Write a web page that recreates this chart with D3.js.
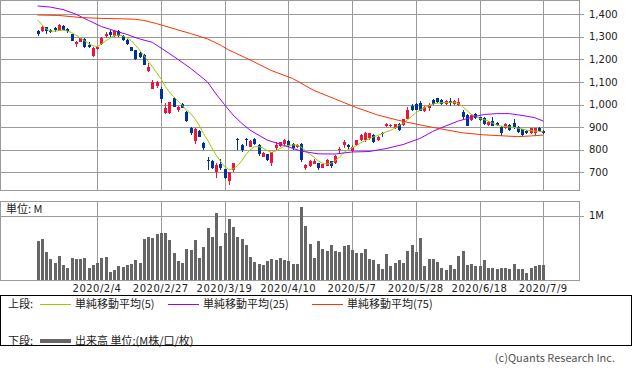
<!DOCTYPE html>
<html>
<head>
<meta charset="utf-8">
<script src="https://cdn.jsdelivr.net/npm/d3@7"></script>
<style>
  body { margin: 0; background: #fff; }
  svg { display: block; }
</style>
</head>
<body>
<div id="chart"></div>
<script>
// trading days shown (2020/1/15 - 2020/7/9)
const dates = [
  "2020/1/15","2020/1/16","2020/1/17","2020/1/20","2020/1/21","2020/1/22","2020/1/23","2020/1/24","2020/1/27","2020/1/28",
  "2020/1/29","2020/1/30","2020/1/31","2020/2/3","2020/2/4","2020/2/5","2020/2/6","2020/2/7","2020/2/10","2020/2/12",
  "2020/2/13","2020/2/14","2020/2/17","2020/2/18","2020/2/19","2020/2/20","2020/2/21","2020/2/25","2020/2/26","2020/2/27",
  "2020/2/28","2020/3/2","2020/3/3","2020/3/4","2020/3/5","2020/3/6","2020/3/9","2020/3/10","2020/3/11","2020/3/12",
  "2020/3/13","2020/3/16","2020/3/17","2020/3/18","2020/3/19","2020/3/23","2020/3/24","2020/3/25","2020/3/26","2020/3/27",
  "2020/3/30","2020/3/31","2020/4/1","2020/4/2","2020/4/3","2020/4/6","2020/4/7","2020/4/8","2020/4/9","2020/4/10",
  "2020/4/13","2020/4/14","2020/4/15","2020/4/16","2020/4/17","2020/4/20","2020/4/21","2020/4/22","2020/4/23","2020/4/24",
  "2020/4/27","2020/4/28","2020/4/30","2020/5/1","2020/5/7","2020/5/8","2020/5/11","2020/5/12","2020/5/13","2020/5/14",
  "2020/5/15","2020/5/18","2020/5/19","2020/5/20","2020/5/21","2020/5/22","2020/5/25","2020/5/26","2020/5/27","2020/5/28",
  "2020/5/29","2020/6/1","2020/6/2","2020/6/3","2020/6/4","2020/6/5","2020/6/8","2020/6/9","2020/6/10","2020/6/11",
  "2020/6/12","2020/6/15","2020/6/16","2020/6/17","2020/6/18","2020/6/19","2020/6/22","2020/6/23","2020/6/24","2020/6/25",
  "2020/6/26","2020/6/29","2020/6/30","2020/7/1","2020/7/2","2020/7/3","2020/7/6","2020/7/7","2020/7/8","2020/7/9"
];

const opens = [
  1326,1326,1342,1332,1338,1326,1350,1335,1311,1268, 1279,1289,1264,1217,1245,1267,1305,1320,1303,1325,
  1304,1286,1253,1242,1230,1220,1150,1070,1082,1068, 964,961,1029,976,1001,968,895,840,884,831,
  756,751,700,735,713,661,710,848,821,846, 814,846,820,769,780,740,806,818,824,840,
  824,812,824,718,730,739,740,721,730,748, 740,797,819,823,794,821,843,841,850,865,
  843,872,905,904,895,914,910,936,994,1003, 1006,973,984,1019,1028,1020,1003,1017,1003,998,
  968,954,932,958,944,939,910,929,920,902, 895,910,920,902,891,883,873,875,895,883
];
const highs = [
  1332,1347,1344,1337,1344,1355,1353,1341,1313,1282, 1296,1294,1276,1257,1260,1300,1322,1329,1332,1330,
  1308,1291,1257,1244,1232,1224,1183,1109,1105,1077, 1006,1013,1032,995,1006,972,902,895,887,836,
  769,754,740,758,716,703,743,853,824,851, 841,850,824,790,783,792,834,836,846,843,
  828,825,828,737,754,759,743,739,759,752, 778,811,843,827,819,845,870,879,875,868,
  861,879,917,914,916,917,938,989,1003,1006, 1016,994,1007,1023,1031,1023,1020,1028,1020,1028,
  976,957,960,961,947,945,927,943,924,905, 920,913,936,905,893,887,898,898,902,887
];
const lows = [
  1305,1320,1311,1317,1320,1324,1329,1317,1282,1257, 1276,1251,1251,1210,1242,1264,1295,1301,1300,1300,
  1282,1266,1237,1197,1207,1175,1146,1068,1074,1008, 958,958,988,967,984,923,865,825,855,799,
  710,716,676,710,670,642,700,799,790,817, 812,821,774,766,750,730,799,814,821,812,
  801,808,746,712,723,735,710,717,726,721, 737,781,808,805,790,817,839,836,845,832,
  839,856,902,901,892,883,907,934,973,974, 972,967,972,1000,1009,998,998,994,998,994,
  932,903,927,936,927,910,905,903,905,861, 890,884,892,876,863,870,870,865,880,870
];
const closes = [
  1311,1344,1326,1323,1329,1353,1332,1326,1283,1279, 1294,1257,1255,1252,1257,1296,1314,1308,1326,1304,
  1286,1270,1239,1201,1210,1177,1168,1100,1100,1023, 984,1011,991,991,986,927,875,891,858,808,
  753,718,734,718,673,700,740,844,797,843, 837,824,780,785,754,789,821,833,843,817,
  806,821,754,732,748,752,719,735,754,726, 774,802,836,810,814,841,865,874,872,836,
  856,870,914,911,913,887,934,978,976,976, 973,991,1000,1004,1013,1003,1017,1006,1016,1013,
  947,905,956,939,932,914,924,905,910,875, 914,887,899,880,865,873,895,895,884,873
];

// volume, in millions
const volumes = [
  0.61,0.64,0.43,0.33,0.27,0.375,0.234,0.188,0.344,0.328, 0.328,0.344,0.188,0.234,0.266,0.349,0.359,0.125,0.156,0.219,
  0.203,0.234,0.25,0.313,0.266,0.64,0.672,0.656,0.719,0.734, 0.734,0.625,0.422,0.297,0.266,0.484,0.469,0.625,0.344,0.516,
  0.813,0.672,1.047,0.531,0.734,0.953,0.828,0.672,0.64,0.547, 0.359,0.281,0.25,0.234,0.297,0.328,0.313,0.344,0.313,0.297,
  0.25,0.25,1.14,0.844,0.563,0.344,0.609,0.484,0.453,0.547, 0.453,0.438,0.531,0.547,0.469,0.422,0.422,0.484,0.328,0.313,
  0.25,0.172,0.406,0.219,0.266,0.313,0.266,0.453,0.547,0.438, 0.656,0.219,0.328,0.328,0.281,0.188,0.156,0.234,0.172,0.375,
  0.453,0.234,0.25,0.219,0.219,0.313,0.188,0.188,0.172,0.188, 0.188,0.172,0.25,0.172,0.172,0.109,0.188,0.219,0.234,0.234
];

// 5 day moving average, one value per day
const ma5 = [
  1375,1355,1336,1326,1325,1328,1330,1326,1319,1308, 1296,1284,1271,1261,1257,1268,1282,1294,1305,1308,
  1305,1296,1284,1264,1242,1218,1193,1169,1142,1116, 1082,1057,1035,1017,998,976,961,938,910,873,
  843,809,777,750,725,713,715,728,750,777, 799,813,814,808,797,788,794,805,814,819,
  821,821,812,797,781,768,752,740,737,739, 752,766,787,799,808,817,830,839,848,856,
  863,870,879,885,895,907,916,932,947,963, 976,986,994,1002,1006,1008,1009,1010,1011,1005,
  992,974,958,947,939,934,927,918,910,905, 903,901,899,896,892,887,885,883,882,880
];

// 25 / 75 day moving averages, read at sample days
const ma25 = [
  ["2020/1/15",1437],["2020/1/20",1432],["2020/1/23",1421],["2020/1/28",1401],["2020/1/31",1373],
  ["2020/2/5",1346],["2020/2/10",1328],["2020/2/14",1311],["2020/2/19",1291],["2020/2/25",1276],
  ["2020/2/28",1239],["2020/3/4",1201],["2020/3/9",1161],["2020/3/12",1116],["2020/3/13",1100],
  ["2020/3/17",1047],["2020/3/19",1000],["2020/3/24",954],["2020/3/26",918],["2020/3/30",887],
  ["2020/4/3",843],["2020/4/9",819],["2020/4/15",794],["2020/4/21",782],["2020/4/27",781],
  ["2020/5/7",790],["2020/5/13",792],["2020/5/19",805],["2020/5/25",823],["2020/5/29",850],
  ["2020/6/3",881],["2020/6/8",905],["2020/6/11",927],["2020/6/16",943],["2020/6/19",956],
  ["2020/6/24",960],["2020/6/29",960],["2020/7/2",952],["2020/7/7",942],["2020/7/9",927]
];
const ma75 = [
  ["2020/1/15",1397],["2020/1/22",1395],["2020/1/29",1386],["2020/2/5",1382],["2020/2/13",1380],
  ["2020/2/18",1378],["2020/2/20",1373],["2020/2/26",1359],["2020/2/28",1348],["2020/3/4",1331],
  ["2020/3/9",1315],["2020/3/13",1291],["2020/3/18",1264],["2020/3/23",1242],["2020/3/30",1198],
  ["2020/4/6",1151],["2020/4/13",1116],["2020/4/20",1063],["2020/4/27",1025],["2020/5/8",987],
  ["2020/5/15",954],["2020/5/22",930],["2020/5/29",910],["2020/6/5",892],["2020/6/12",875],
  ["2020/6/19",866],["2020/6/26",861],["2020/7/1",858],["2020/7/6",861],["2020/7/9",865]
];

const tickDates = ["2020/2/4","2020/2/27","2020/3/19","2020/4/10","2020/5/7","2020/5/28","2020/6/18","2020/7/9"];
const priceTicks = [700, 800, 900, 1000, 1100, 1200, 1300, 1400];
const volumeTicks = [1];

const legendTop = [
  { label: "単純移動平均(5)", color: "#99cc00" },
  { label: "単純移動平均(25)", color: "#9900ff" },
  { label: "単純移動平均(75)", color: "#ff3300" }
];

(function() {
    const COLORS = {
        up: "#f0143c",
        down: "#003399",
        grid: "#9a9a9a",
        volume: "#666666",
        text: "#222222"
    };

    const W = 633, H = 373;
    const FONT = "'Noto Sans CJK JP', 'DejaVu Sans', sans-serif";
    const NUM_FONT = "'DejaVu Sans', sans-serif";

    // panel boxes
    const top = { x0: 0, x1: 579, y0: 0, y1: 190 };
    const vol = { x0: 0, x1: 579, y0: 201, y1: 280 };

    const svg = d3.select("#chart").append("svg")
        .attr("width", W)
        .attr("height", H)
        .attr("viewBox", `0 0 ${W} ${H}`);

    svg.append("rect").attr("width", W).attr("height", H).attr("fill", "#fff");

    const x = d3.scalePoint().domain(dates).range([37.5, 543.25]);
    const yP = d3.scaleLinear().domain([621.6, 1463.4]).range([top.y1, top.y0]);
    const yV = d3.scaleLinear().domain([0, 1.234]).range([vol.y1, vol.y0]);
    const px = d => Math.round(x(d));

    const grid = svg.append("g")
        .attr("stroke", COLORS.grid)
        .attr("stroke-width", 1)
        .attr("shape-rendering", "crispEdges");

    // horizontal price grid + right ticks
    grid.selectAll(".hp").data(priceTicks).join("line")
        .attr("x1", top.x0).attr("x2", top.x1 + 5)
        .attr("y1", d => Math.round(yP(d)) + 0.5)
        .attr("y2", d => Math.round(yP(d)) + 0.5);

    grid.selectAll(".hv").data(volumeTicks).join("line")
        .attr("x1", vol.x0).attr("x2", vol.x1 + 5)
        .attr("y1", d => Math.round(yV(d)) + 0.5)
        .attr("y2", d => Math.round(yV(d)) + 0.5);

    // vertical date grid in both panels
    [top, vol].forEach(p => {
        grid.append("g").selectAll("line").data(tickDates).join("line")
            .attr("x1", d => px(d) + 0.5).attr("x2", d => px(d) + 0.5)
            .attr("y1", p.y0).attr("y2", p.y1);
        grid.append("rect")
            .attr("x", p.x0 + 0.5).attr("y", p.y0 + 0.5)
            .attr("width", p.x1 - p.x0).attr("height", p.y1 - p.y0)
            .attr("fill", "none");
    });

    // candles
    const idx = d3.range(dates.length);
    const candles = svg.append("g").attr("shape-rendering", "crispEdges");

    candles.selectAll("line").data(idx).join("line")
        .attr("x1", i => px(dates[i]) + 0.5).attr("x2", i => px(dates[i]) + 0.5)
        .attr("y1", i => yP(highs[i])).attr("y2", i => yP(lows[i]))
        .attr("stroke", i => closes[i] >= opens[i] ? COLORS.up : COLORS.down);

    candles.selectAll("rect").data(idx).join("rect")
        .attr("x", i => px(dates[i]) - 1)
        .attr("width", 3)
        .attr("y", i => yP(Math.max(opens[i], closes[i])))
        .attr("height", i => Math.max(1, yP(Math.min(opens[i], closes[i])) - yP(Math.max(opens[i], closes[i]))))
        .attr("fill", i => closes[i] >= opens[i] ? COLORS.up : COLORS.down);

    // moving averages
    const line = d3.line().x(d => x(d[0])).y(d => yP(d[1]));
    const maSeries = [
        { data: dates.map((d, i) => [d, ma5[i]]), color: legendTop[0].color },
        { data: ma25, color: legendTop[1].color },
        { data: ma75, color: legendTop[2].color }
    ];
    svg.append("g").selectAll("path").data(maSeries).join("path")
        .attr("d", s => line(s.data))
        .attr("fill", "none")
        .attr("stroke", s => s.color)
        .attr("stroke-width", 1);

    // volume bars
    svg.append("g").attr("shape-rendering", "crispEdges")
        .selectAll("rect").data(idx).join("rect")
        .attr("x", i => px(dates[i]) - 1)
        .attr("width", 3)
        .attr("y", i => yV(volumes[i]))
        .attr("height", i => yV(0) - yV(volumes[i]))
        .attr("fill", COLORS.volume);

    // right axis labels
    svg.append("g").selectAll("text").data(priceTicks).join("text")
        .attr("x", 589).attr("y", d => yP(d))
        .attr("dy", "0.35em")
        .attr("font-family", NUM_FONT).attr("font-size", 10)
        .attr("fill", COLORS.text)
        .text(d3.format(","));

    svg.append("g").selectAll("text").data(volumeTicks).join("text")
        .attr("x", 589).attr("y", d => yV(d))
        .attr("dy", "0.35em")
        .attr("font-family", NUM_FONT).attr("font-size", 10)
        .attr("fill", COLORS.text)
        .text(d => d + "M");

    svg.append("text")
        .attr("x", 6).attr("y", 209).attr("dy", "0.35em")
        .attr("font-family", FONT).attr("font-size", 11)
        .attr("fill", COLORS.text)
        .text("単位: M");

    // date labels
    svg.append("g").selectAll("text").data(tickDates).join("text")
        .attr("x", d => x(d)).attr("y", 288).attr("dy", "0.35em")
        .attr("text-anchor", "middle")
        .attr("font-family", NUM_FONT).attr("font-size", 10)
        .attr("letter-spacing", "0.5px")
        .attr("fill", COLORS.text)
        .text(d => d);

    // legend
    const legend = svg.append("g");
    legend.append("rect")
        .attr("x", 0.5).attr("y", 295.5)
        .attr("width", 631).attr("height", 50)
        .attr("fill", "none").attr("stroke", "#000")
        .attr("shape-rendering", "crispEdges");

    const rowY = [304, 341];
    const itemX = [40, 168, 312];

    legend.append("text").attr("x", 8).attr("y", rowY[0]).attr("dy", "0.35em")
        .attr("font-family", FONT).attr("font-size", 11).attr("fill", COLORS.text)
        .text("上段:");
    legend.append("text").attr("x", 8).attr("y", rowY[1]).attr("dy", "0.35em")
        .attr("font-family", FONT).attr("font-size", 11).attr("fill", COLORS.text)
        .text("下段:");

    const items = legend.selectAll(".item").data(legendTop).join("g")
        .attr("transform", (d, i) => `translate(${itemX[i]},${rowY[0]})`);
    items.append("line")
        .attr("x1", 0).attr("x2", 31).attr("y1", 0.5).attr("y2", 0.5)
        .attr("stroke", d => d.color).attr("stroke-width", 1)
        .attr("shape-rendering", "crispEdges");
    items.append("text")
        .attr("x", 35).attr("dy", "0.35em")
        .attr("font-family", FONT).attr("font-size", 11).attr("fill", COLORS.text)
        .text(d => d.label);

    legend.append("line")
        .attr("x1", itemX[0]).attr("x2", itemX[0] + 31)
        .attr("y1", rowY[1]).attr("y2", rowY[1])
        .attr("stroke", COLORS.volume).attr("stroke-width", 4);
    legend.append("text")
        .attr("x", itemX[0] + 35).attr("y", rowY[1]).attr("dy", "0.35em")
        .attr("font-family", FONT).attr("font-size", 11).attr("fill", COLORS.text)
        .text("出来高 単位:(M株/口/枚)");

    svg.append("text")
        .attr("x", 615).attr("y", 358).attr("dy", "0.35em")
        .attr("text-anchor", "end")
        .attr("font-family", FONT).attr("font-size", 11)
        .attr("fill", "#555")
        .text("(c)Quants Research Inc.");
})();
</script>
</body>
</html>
